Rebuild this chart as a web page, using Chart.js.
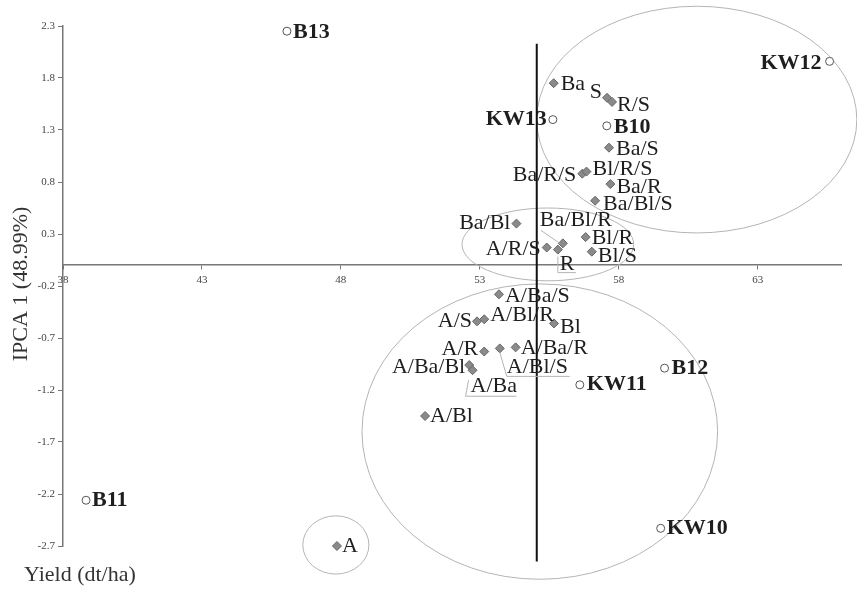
<!DOCTYPE html>
<html>
<head>
<meta charset="utf-8">
<script src="https://cdn.jsdelivr.net/npm/chart.js@4.4.1/dist/chart.umd.min.js"></script>
<style>
  html, body { margin: 0; padding: 0; background: #fff; }
  canvas { display: block; }
</style>
</head>
<body>
<canvas id="biplot" width="857" height="589"></canvas>
<script>
// environments (open circles, bold labels)
const envNames = ['B13', 'KW12', 'KW13', 'B10', 'B12', 'KW11', 'B11', 'KW10'];
const envYield = [46.06, 65.59, 55.63, 57.57, 59.65, 56.60, 38.83, 59.51];
const envIpca  = [2.25, 1.96, 1.40, 1.34, -0.99, -1.15, -2.26, -2.53];

// treatments (grey diamonds)
const trtNames = ['Ba', 'S', 'R/S', 'Ba/S', 'Ba/R/S', 'Bl/R/S', 'Ba/R', 'Ba/Bl/S', 'Ba/Bl', 'Ba/Bl/R',
                  'Bl/R', 'Bl/S', 'A/R/S', 'R', 'A/Ba/S', 'A/S', 'A/Bl/R', 'Bl', 'A/R', 'A/Bl/S',
                  'A/Ba/R', 'A/Ba/Bl', 'A/Ba', 'A/Bl', 'A'];
const trtYield = [55.66, 57.58, 57.76, 57.65, 56.69, 56.84, 57.70, 57.15, 54.32, 55.99,
                  56.81, 57.03, 55.41, 55.81, 53.69, 52.90, 53.16, 55.67, 53.16, 53.72,
                  54.29, 52.62, 52.74, 51.03, 47.86];
const trtIpca  = [1.75, 1.61, 1.57, 1.13, 0.88, 0.90, 0.78, 0.62, 0.40, 0.21,
                  0.27, 0.13, 0.17, 0.15, -0.28, -0.54, -0.52, -0.56, -0.83, -0.80,
                  -0.79, -0.96, -1.01, -1.45, -2.70];

// grand mean yield line
const meanYield = 55.05;
const meanLineEnds = [2.13, -2.85];

const xTicks = [38, 43, 48, 53, 58, 63];
const yTicks = [2.3, 1.8, 1.3, 0.8, 0.3, -0.2, -0.7, -1.2, -1.7, -2.2, -2.7];

// circled groups: centre yield / ipca, half width / half height
const groupX = [60.81, 55.45, 55.16, 47.82];
const groupY = [1.40, 0.20, -1.60, -2.69];
const groupW = [5.76, 3.09, 6.40, 1.19];
const groupH = [1.09, 0.35, 1.42, 0.28];

// label placement: [dx, dy, align] in pixels from the point
const labelPos = {
    'B13': [6, 1, 'left'], 'KW12': [-8, 2, 'right'], 'KW13': [-6, 0, 'right'], 'B10': [7, 1, 'left'],
    'B12': [7, 0, 'left'], 'KW11': [7, 0, 'left'], 'B11': [6, 0, 'left'], 'KW10': [6, 0, 'left'],
    'Ba': [7, 1, 'left'], 'S': [-5, -6, 'right'], 'R/S': [5, 3, 'left'], 'Ba/S': [7, 2, 'left'],
    'Ba/R/S': [-6, 2, 'right'], 'Bl/R/S': [6, -2, 'left'], 'Ba/R': [6, 3, 'left'], 'Ba/Bl/S': [8, 3, 'left'],
    'Ba/Bl': [-6, 0, 'right'], 'Ba/Bl/R': [-23, -23, 'left'], 'Bl/R': [6, 1, 'left'], 'Bl/S': [6, 5, 'left'],
    'A/R/S': [-6, 2, 'right'], 'R': [2, 15, 'left'], 'A/Ba/S': [6, 2, 'left'], 'A/S': [-5, 0, 'right'],
    'A/Bl/R': [6, -4, 'left'], 'Bl': [6, 4, 'left'], 'A/R': [-6, -2, 'right'], 'A/Bl/S': [7, 19, 'left'],
    'A/Ba/R': [5, 1, 'left'], 'A/Ba/Bl': [-4, 2, 'right'], 'A/Ba': [-2, 16, 'left'], 'A/Bl': [5, 0, 'left'],
    'A': [5, 0, 'left']
};
// leader lines for labels pulled away from their points
const leaders = {
    'Ba/Bl/R': [[-3, 0], [-22, -13]],
    'R': [[0, 7], [0, 23], [18, 23]],
    'A/Bl/S': [[0, 4], [7, 28], [70, 28]],
    'A/Ba': [[-4, 10], [-7, 26], [44, 26]]
};

const FONT = '"Liberation Serif", "Times New Roman", serif';

const extras = {
    id: 'extras',
    beforeDatasetsDraw(chart) {
        const c = chart.ctx;
        const sx = chart.scales.x, sy = chart.scales.y;
        c.save();
        c.strokeStyle = '#b4b4b4';
        c.lineWidth = 1;
        groupX.forEach((gx, i) => {
            const cx = sx.getPixelForValue(gx);
            const cy = sy.getPixelForValue(groupY[i]);
            const rx = sx.getPixelForValue(gx + groupW[i]) - cx;
            const ry = cy - sy.getPixelForValue(groupY[i] + groupH[i]);
            c.beginPath();
            c.ellipse(cx, cy, rx, ry, 0, 0, Math.PI * 2);
            c.stroke();
        });
        c.restore();
    },
    afterDatasetsDraw(chart) {
        const c = chart.ctx;
        c.save();
        c.textBaseline = 'middle';
        c.fillStyle = '#1e1e1e';
        [[0, envNames, 'bold 22px '], [1, trtNames, '22px ']].forEach(([di, names, f]) => {
            const meta = chart.getDatasetMeta(di);
            c.font = f + FONT;
            meta.data.forEach((pt, j) => {
                const name = names[j];
                const p = labelPos[name] || [6, 0, 'left'];
                if (leaders[name]) {
                    c.strokeStyle = '#b4b4b4';
                    c.lineWidth = 1;
                    c.beginPath();
                    leaders[name].forEach(([dx, dy], k) => {
                        if (k === 0) c.moveTo(pt.x + dx, pt.y + dy);
                        else c.lineTo(pt.x + dx, pt.y + dy);
                    });
                    c.stroke();
                }
                c.textAlign = p[2];
                c.fillText(name, pt.x + p[0], pt.y + p[1]);
            });
        });
        c.restore();
    },
    afterDraw(chart) {
        const c = chart.ctx;
        c.save();
        c.fillStyle = '#333';
        c.font = '22px ' + FONT;
        c.textBaseline = 'middle';
        c.textAlign = 'left';
        c.fillText('Yield (dt/ha)', 24, 575);
        c.translate(21, 284);
        c.rotate(-Math.PI / 2);
        c.textAlign = 'center';
        c.fillText('IPCA 1 (48.99%)', 0, 0);
        c.restore();
    }
};

const ctx = document.getElementById('biplot').getContext('2d');
const chart = new Chart(ctx, {
    type: 'scatter',
    data: {
        datasets: [{
            label: 'Environments',
            data: envNames.map((n, i) => ({x: envYield[i], y: envIpca[i]})),
            pointStyle: 'circle',
            pointRadius: 4,
            backgroundColor: '#fff',
            borderColor: '#555',
            borderWidth: 1,
            clip: false
        }, {
            label: 'Treatments',
            data: trtNames.map((n, i) => ({x: trtYield[i], y: trtIpca[i]})),
            pointStyle: 'rectRot',
            pointRadius: 4.5,
            backgroundColor: '#8a8a8a',
            borderColor: '#666',
            borderWidth: 1,
            clip: false
        }, {
            type: 'line',
            label: 'Mean',
            data: meanLineEnds.map(v => ({x: meanYield, y: v})),
            borderColor: '#111',
            borderWidth: 2,
            pointRadius: 0,
            clip: false
        }]
    },
    options: {
        responsive: false,
        animation: false,
        layout: { padding: { top: 26, right: 16, bottom: 43, left: 0 } },
        plugins: {
            legend: { display: false },
            tooltip: { enabled: false }
        },
        scales: {
            x: {
                type: 'linear',
                min: 38,
                max: 66,
                position: { y: 0 },
                afterBuildTicks: s => { s.ticks = xTicks.map(v => ({value: v})); },
                grid: { drawOnChartArea: false, color: '#777', tickLength: 4 },
                border: { color: '#777', width: 1.5 },
                ticks: {
                    padding: 4,
                    color: '#444',
                    font: { family: FONT, size: 11 },
                    maxRotation: 0
                }
            },
            y: {
                type: 'linear',
                min: -2.7,
                max: 2.3,
                afterBuildTicks: s => { s.ticks = yTicks.map(v => ({value: v})); },
                afterFit: s => { s.width = 63; },
                grid: { drawOnChartArea: false, color: '#777', tickLength: 5 },
                border: { color: '#777', width: 1.5 },
                ticks: {
                    padding: 3,
                    color: '#444',
                    font: { family: FONT, size: 11 },
                    callback: v => Number(v).toFixed(1)
                }
            }
        }
    },
    plugins: [extras]
});
</script>
</body>
</html>
